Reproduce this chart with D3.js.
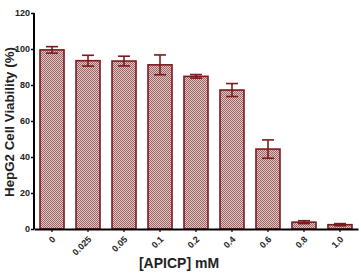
<!DOCTYPE html>
<html>
<head>
<meta charset="utf-8">
<script src="https://cdn.jsdelivr.net/npm/d3@7"></script>
<style>
  body { margin: 0; background: #fff; }
  svg { display: block; font-family: "Liberation Sans", Arial, sans-serif; }
</style>
</head>
<body>
<div id="chart"></div>
<script>
let concentrations = ["0", "0.025", "0.05", "0.1", "0.2", "0.4", "0.6", "0.8", "1.0"];
let viability = [99.5, 93.5, 93.3, 91.2, 84.8, 77.2, 44.4, 3.8, 2.4];
let errors = [1.8, 3.0, 2.7, 5.5, 1.0, 3.6, 5.1, 0.8, 0.6];
let yTicks = [0, 20, 40, 60, 80, 100, 120];

let width = 361,
    height = 273;

let svg = d3.select("#chart")
    .append("svg")
    .attr("width", width)
    .attr("height", height);

// checkered fill like the original print
let defs = svg.append("defs");
let pat = defs.append("pattern")
    .attr("id", "checker")
    .attr("width", 2)
    .attr("height", 2)
    .attr("patternUnits", "userSpaceOnUse");
pat.append("rect").attr("width", 2).attr("height", 2).attr("fill", "#dfc8c8");
pat.append("rect").attr("width", 1).attr("height", 1).attr("fill", "#9e6262");
pat.append("rect").attr("x", 1).attr("y", 1).attr("width", 1).attr("height", 1).attr("fill", "#9e6262");

let x = d3.scaleBand()
    .domain(concentrations)
    .range([34, 358])
    .paddingInner(0.333)
    .paddingOuter(0.167);

let y = d3.scaleLinear()
    .domain([0, 120])
    .range([229, 13]);

let dark = "#7b1a1f";

// bars
svg.append("g")
    .selectAll("rect")
    .data(viability)
    .enter()
    .append("rect")
    .attr("x", (d, i) => x(concentrations[i]))
    .attr("y", d => y(d))
    .attr("width", x.bandwidth())
    .attr("height", d => y(0) - y(d))
    .attr("fill", "url(#checker)")
    .attr("stroke", dark)
    .attr("stroke-width", 1.6);

// error bars
let err = svg.append("g")
    .attr("stroke", dark)
    .attr("stroke-width", 1.6);
viability.forEach(function(v, i) {
    let cx = x(concentrations[i]) + x.bandwidth() / 2;
    let e = errors[i];
    err.append("line")
        .attr("x1", cx).attr("x2", cx)
        .attr("y1", y(v + e)).attr("y2", y(v - e));
    err.append("line")
        .attr("x1", cx - 6).attr("x2", cx + 6)
        .attr("y1", y(v + e)).attr("y2", y(v + e));
    err.append("line")
        .attr("x1", cx - 6).attr("x2", cx + 6)
        .attr("y1", y(v - e)).attr("y2", y(v - e));
});

// y axis
let yAxis = svg.append("g")
    .attr("transform", "translate(34,0)")
    .call(d3.axisLeft(y).tickValues(yTicks).tickSize(3).tickPadding(1));
yAxis.select(".domain").attr("stroke-width", 2).attr("d", "M0," + y(120) + "V" + y(0));
yAxis.selectAll(".tick line").attr("stroke-width", 1.5);
yAxis.selectAll("text")
    .style("font-size", "9px")
    .style("font-weight", "bold")
    .attr("fill", "#222");

// x axis, labels turned 45 degrees
let xAxis = svg.append("g")
    .attr("transform", "translate(0," + y(0) + ")")
    .call(d3.axisBottom(x).tickSize(3).tickSizeOuter(0));
xAxis.select(".domain").attr("stroke-width", 2);
xAxis.selectAll(".tick line").attr("stroke-width", 1.2);
xAxis.selectAll(".tick text").remove();
xAxis.selectAll(".tick")
    .append("text")
    .attr("fill", "#222")
    .attr("text-anchor", "end")
    .attr("transform", "translate(4,11) rotate(-45)")
    .style("font-size", "9px")
    .style("font-weight", "bold")
    .text(d => d);

// titles
svg.append("text")
    .attr("x", 179)
    .attr("y", 268)
    .attr("text-anchor", "middle")
    .style("font-size", "14px")
    .style("font-weight", "bold")
    .attr("fill", "#222")
    .text("[APICP] mM");

svg.append("text")
    .attr("transform", "translate(14,122) rotate(-90)")
    .attr("text-anchor", "middle")
    .style("font-size", "13.3px")
    .style("font-weight", "bold")
    .attr("fill", "#222")
    .text("HepG2 Cell Viability (%)");
</script>
</body>
</html>
